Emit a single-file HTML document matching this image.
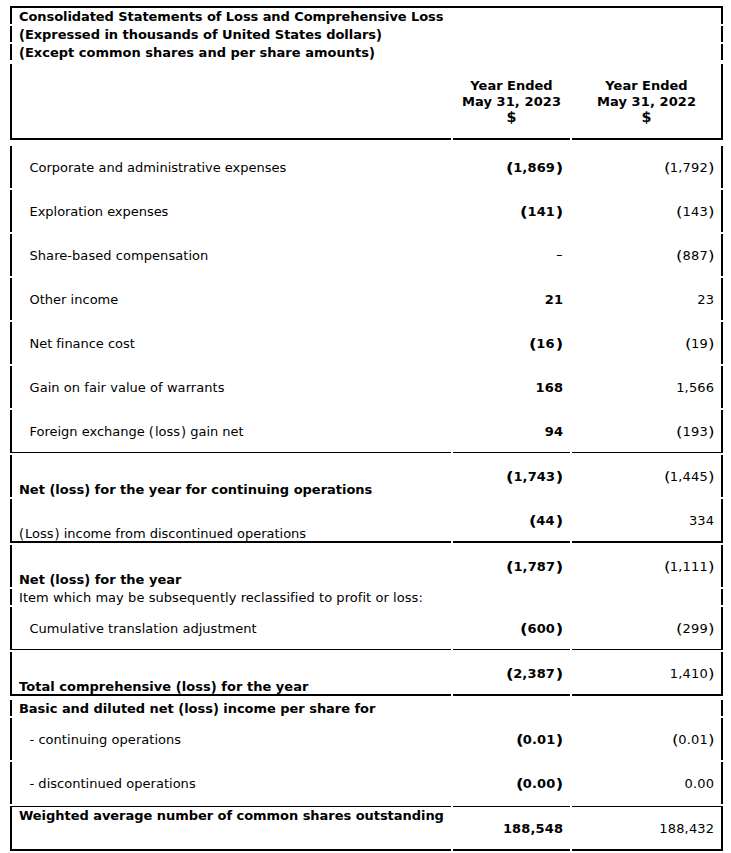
<!DOCTYPE html>
<html>
<head>
<meta charset="utf-8">
<title>Consolidated Statements of Loss and Comprehensive Loss</title>
<style>
html, body { margin: 0; padding: 0; background: #fff; }
body { width: 731px; height: 853px; overflow: hidden; position: relative; }
table {
  position: absolute; left: 8px; top: 4px;
  width: 717px;
  table-layout: fixed;
  border-collapse: separate;
  border-spacing: 2px;
  font-family: "DejaVu Sans", "Liberation Sans", sans-serif;
  font-size: 13px;
  line-height: 16px;
  color: #000;
}
td { padding: 0; white-space: nowrap; }
.s { position: relative; top: 1px; }
.L { border-left: 2px solid #000; }
.R { border-right: 2px solid #000; }
.T { border-top: 2px solid #000; }
.T1 { border-top: 1px solid #000; }
.B { border-bottom: 2px solid #000; }
.B1 { border-bottom: 1px solid #000; }
.b { font-weight: bold; }
.c1 { padding-left: 7px; }
.ind { padding-left: 17.5px; }
.v { text-align: right; vertical-align: middle; padding-right: 7px; }
.vb { font-weight: bold; }
.v3 { padding-right: 7px; }
.bot { vertical-align: bottom; }
.top { vertical-align: top; }
.h { text-align: center; font-weight: bold; vertical-align: middle; }
tr.r42 td { height: 42px; }
tr.hdr td { height: 74px; }
tr.sp0 td { height: 0; }
tr.sp2 td { height: 2px; }
.dash { font-weight: normal; display: inline-block; transform: scaleX(1.45); transform-origin: 100% 50%; top: 0; }
.dol { display: inline-block; transform: scale(1.1, 1.12); transform-origin: 50% 60%; }
.pa { display: inline-block; transform-origin: 50% 0; }
.bo { transform: translateX(2px) scale(1.3, 1.12); }
.bc { transform: translateX(-0.5px) scale(1.25, 1.12); }
.ro { transform: translateX(0.8px) scale(1.3, 1.12); }
.rc { transform: translateX(-0.1px) scale(1.3, 1.12); }
.pl { display: inline-block; transform: scaleY(1.12); transform-origin: 50% 0; }
</style>
</head>
<body>
<table>
<colgroup><col style="width:441px"><col style="width:117px"><col style="width:151px"></colgroup>
<tr><td colspan="3" class="L R T b c1"><span class="s" style="letter-spacing:-0.075px">Consolidated Statements of Loss and Comprehensive Loss</span></td></tr>
<tr><td colspan="3" class="L R b c1"><span class="s" style="letter-spacing:-0.044px"><span class="pl">(</span>Expressed in thousands of United States dollars<span class="pl">)</span></span></td></tr>
<tr><td colspan="3" class="L R b c1"><span class="s" style="letter-spacing:0.006px"><span class="pl">(</span>Except common shares and per share amounts<span class="pl">)</span></span></td></tr>
<tr class="sp0"><td colspan="3"></td></tr>
<tr class="hdr"><td class="L B"></td><td class="B h"><span class="s">Year Ended<br><span style="letter-spacing:0.09px">May 31, 2023</span><br><span class="dol">$</span></span></td><td class="B R h"><span class="s">Year Ended<br><span style="letter-spacing:0.09px">May 31, 2022</span><br><span class="dol">$</span></span></td></tr>
<tr class="sp2"><td colspan="3"></td></tr>
<tr class="r42"><td class="L  ind"><span class="s" style="letter-spacing:-0.015px">Corporate and administrative expenses</span></td><td class="v vb "><span class="s" style="letter-spacing:0.15px;margin-right:-0.15px"><span class="pa bo" style="margin-right:2.0px">(</span>1,869<span class="pa bc" style="margin-left:2.0px">)</span></span></td><td class="v v3 R "><span class="s" style="letter-spacing:0.15px;margin-right:-0.15px"><span class="pa ro" style="margin-right:1.1px">(</span>1,792<span class="pa rc" style="margin-left:1.1px">)</span></span></td></tr>
<tr class="r42"><td class="L  ind"><span class="s" style="letter-spacing:-0.036px">Exploration expenses</span></td><td class="v vb "><span class="s" style="letter-spacing:0.15px;margin-right:-0.15px"><span class="pa bo" style="margin-right:2.0px">(</span>141<span class="pa bc" style="margin-left:2.0px">)</span></span></td><td class="v v3 R "><span class="s" style="letter-spacing:0.15px;margin-right:-0.15px"><span class="pa ro" style="margin-right:1.1px">(</span>143<span class="pa rc" style="margin-left:1.1px">)</span></span></td></tr>
<tr class="r42"><td class="L  ind"><span class="s" style="letter-spacing:0.059px">Share-based compensation</span></td><td class="v vb "><span class="s dash">-</span></td><td class="v v3 R "><span class="s" style="letter-spacing:0.15px;margin-right:-0.15px"><span class="pa ro" style="margin-right:1.1px">(</span>887<span class="pa rc" style="margin-left:1.1px">)</span></span></td></tr>
<tr class="r42"><td class="L  ind"><span class="s" style="letter-spacing:0.011px">Other income</span></td><td class="v vb "><span class="s" style="letter-spacing:0.15px;margin-right:-0.15px">21</span></td><td class="v v3 R "><span class="s" style="letter-spacing:0.15px;margin-right:-0.15px">23</span></td></tr>
<tr class="r42"><td class="L  ind"><span class="s" style="letter-spacing:-0.040px">Net finance cost</span></td><td class="v vb "><span class="s" style="letter-spacing:0.15px;margin-right:-0.15px"><span class="pa bo" style="margin-right:2.4px">(</span>16<span class="pa bc" style="margin-left:2.4px">)</span></span></td><td class="v v3 R "><span class="s" style="letter-spacing:0.15px;margin-right:-0.15px"><span class="pa ro" style="margin-right:1.1px">(</span>19<span class="pa rc" style="margin-left:1.1px">)</span></span></td></tr>
<tr class="r42"><td class="L  ind"><span class="s" style="letter-spacing:0.052px">Gain on fair value of warrants</span></td><td class="v vb "><span class="s" style="letter-spacing:0.15px;margin-right:-0.15px">168</span></td><td class="v v3 R "><span class="s" style="letter-spacing:0.15px;margin-right:-0.15px">1,566</span></td></tr>
<tr class="r42"><td class="L B1 ind"><span class="s" style="letter-spacing:-0.009px">Foreign exchange <span class="pl" style="margin-right:1.0px">(</span>loss<span class="pl" style="margin-left:1.0px">)</span> gain net</span></td><td class="v vb B1"><span class="s" style="letter-spacing:0.15px;margin-right:-0.15px">94</span></td><td class="v v3 R B1"><span class="s" style="letter-spacing:0.15px;margin-right:-0.15px"><span class="pa ro" style="margin-right:1.1px">(</span>193<span class="pa rc" style="margin-left:1.1px">)</span></span></td></tr>
<tr class="r42"><td class="L  c1 b bot"><span class="s" style="letter-spacing:-0.015px">Net <span class="pl">(</span>loss<span class="pl">)</span> for the year for continuing operations</span></td><td class="v vb "><span class="s" style="letter-spacing:0.15px;margin-right:-0.15px"><span class="pa bo" style="margin-right:1.8px">(</span>1,743<span class="pa bc" style="margin-left:1.8px">)</span></span></td><td class="v v3 R "><span class="s" style="letter-spacing:0.15px;margin-right:-0.15px"><span class="pa ro" style="margin-right:1.1px">(</span>1,445<span class="pa rc" style="margin-left:1.1px">)</span></span></td></tr>
<tr class="r42"><td class="L B c1 bot"><span class="s" style="letter-spacing:-0.015px"><span class="pl" style="margin-right:1.0px">(</span>Loss<span class="pl" style="margin-left:1.0px">)</span> income from discontinued operations</span></td><td class="v vb B"><span class="s" style="letter-spacing:0.15px;margin-right:-0.15px"><span class="pa bo" style="margin-right:2.3px">(</span>44<span class="pa bc" style="margin-left:2.3px">)</span></span></td><td class="v v3 R B"><span class="s" style="letter-spacing:0.15px;margin-right:-0.15px">334</span></td></tr>
<tr class="r42"><td class="L  c1 b bot"><span class="s" style="letter-spacing:-0.005px">Net <span class="pl">(</span>loss<span class="pl">)</span> for the year</span></td><td class="v vb "><span class="s" style="letter-spacing:0.15px;margin-right:-0.15px"><span class="pa bo" style="margin-right:1.8px">(</span>1,787<span class="pa bc" style="margin-left:1.8px">)</span></span></td><td class="v v3 R "><span class="s" style="letter-spacing:0.15px;margin-right:-0.15px"><span class="pa ro" style="margin-right:1.1px">(</span>1,111<span class="pa rc" style="margin-left:1.1px">)</span></span></td></tr>
<tr><td class="L c1"><span class="s" style="letter-spacing:0.059px">Item which may be subsequently reclassified to profit or loss:</span></td><td></td><td class="R"></td></tr>
<tr class="r42"><td class="L B1 ind"><span class="s" style="letter-spacing:0.025px">Cumulative translation adjustment</span></td><td class="v vb B1"><span class="s" style="letter-spacing:0.15px;margin-right:-0.15px"><span class="pa bo" style="margin-right:2.0px">(</span>600<span class="pa bc" style="margin-left:2.0px">)</span></span></td><td class="v v3 R B1"><span class="s" style="letter-spacing:0.15px;margin-right:-0.15px"><span class="pa ro" style="margin-right:1.1px">(</span>299<span class="pa rc" style="margin-left:1.1px">)</span></span></td></tr>
<tr class="r42"><td class="L B c1 b bot"><span class="s" style="letter-spacing:0.032px">Total comprehensive <span class="pl">(</span>loss<span class="pl">)</span> for the year</span></td><td class="v vb B"><span class="s" style="letter-spacing:0.15px;margin-right:-0.15px"><span class="pa bo" style="margin-right:2.0px">(</span>2,387<span class="pa bc" style="margin-left:2.0px">)</span></span></td><td class="v v3 R B"><span class="s" style="letter-spacing:0.15px;margin-right:-0.15px">1,410<span class="pa rc" style="margin-left:1.1px">)</span></span></td></tr>
<tr class="sp0"><td colspan="3"></td></tr>
<tr><td class="L b c1"><span class="s" style="letter-spacing:-0.038px">Basic and diluted net <span class="pl">(</span>loss<span class="pl">)</span> income per share for</span></td><td></td><td class="R"></td></tr>
<tr class="r42"><td class="L  ind"><span class="s" style="letter-spacing:0.038px">- continuing operations</span></td><td class="v vb "><span class="s" style="letter-spacing:0.15px;margin-right:-0.15px"><span class="pa bo" style="margin-right:1.6px">(</span>0.01<span class="pa bc" style="margin-left:1.6px">)</span></span></td><td class="v v3 R "><span class="s" style="letter-spacing:0.15px;margin-right:-0.15px"><span class="pa ro" style="margin-right:1.1px">(</span>0.01<span class="pa rc" style="margin-left:1.1px">)</span></span></td></tr>
<tr class="r42"><td class="L  ind"><span class="s" style="letter-spacing:0.025px">- discontinued operations</span></td><td class="v vb "><span class="s" style="letter-spacing:0.15px;margin-right:-0.15px"><span class="pa bo" style="margin-right:1.6px">(</span>0.00<span class="pa bc" style="margin-left:1.6px">)</span></span></td><td class="v v3 R "><span class="s" style="letter-spacing:0.15px;margin-right:-0.15px">0.00</span></td></tr>
<tr class="r42"><td class="L T1 B c1 b top"><span class="s" style="letter-spacing:-0.043px">Weighted average number of common shares outstanding</span></td><td class="v vb T1 B"><span class="s" style="letter-spacing:0.15px;margin-right:-0.15px">188,548</span></td><td class="v v3 R T1 B"><span class="s" style="letter-spacing:0.15px;margin-right:-0.15px">188,432</span></td></tr>
</table>
</body>
</html>
